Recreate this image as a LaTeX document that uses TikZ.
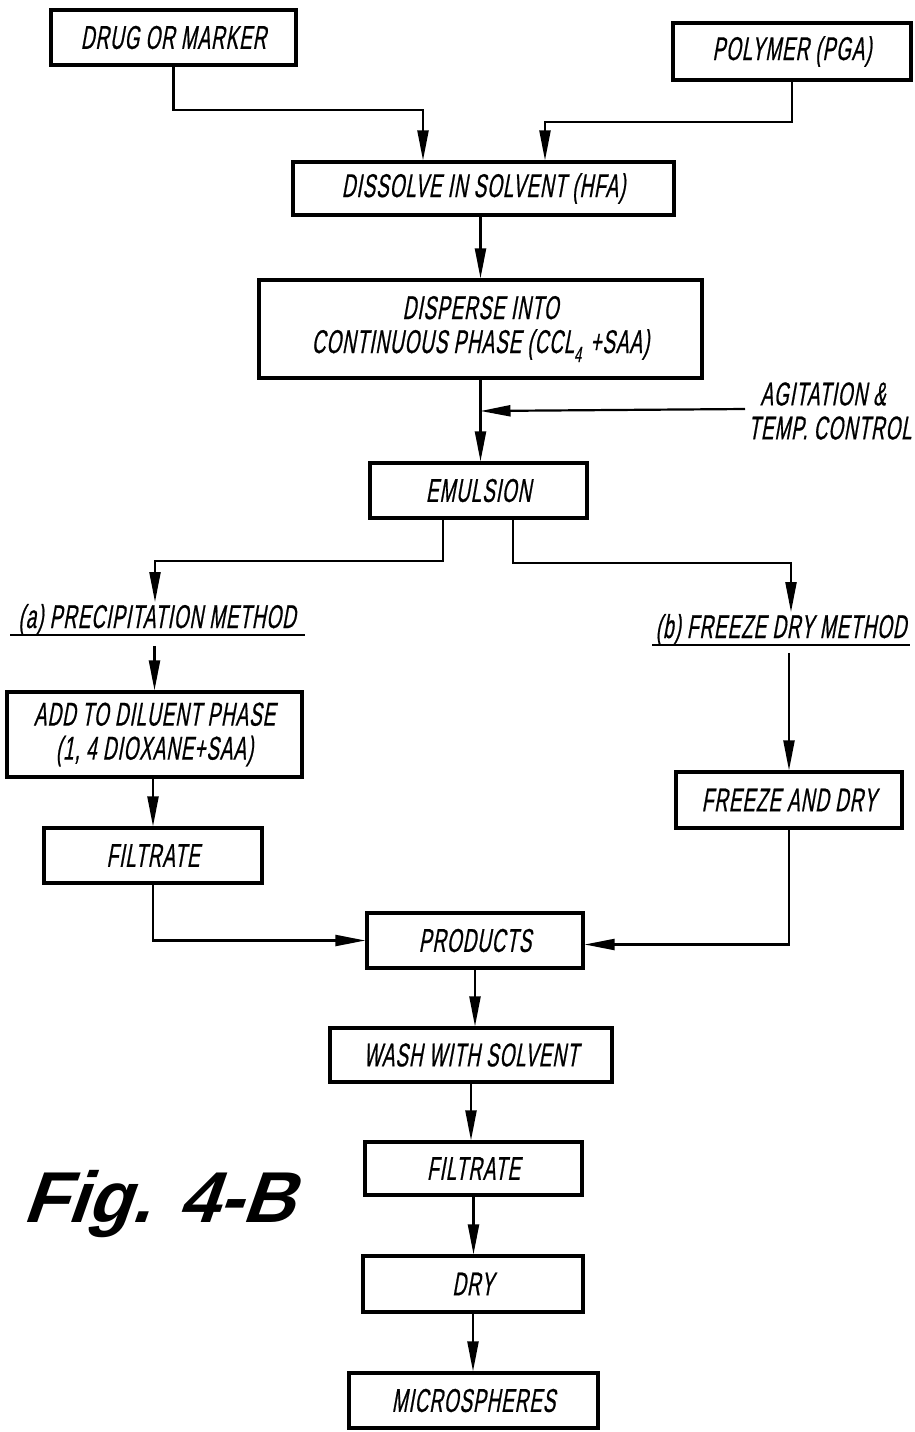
\documentclass[tikz,border=0pt]{standalone}
\usepackage{fontspec}
\usetikzlibrary{arrows.meta}
\newfontfamily\lettering{Liberation Sans}[FakeStretch=0.57, FakeSlant=0.18, FakeBold=0.6, LetterSpace=3]
\newfontfamily\figfont{Liberation Sans}[FakeStretch=1.0, FakeSlant=0.35]
\newcommand{\subfour}{\raisebox{-4.5pt}{\fontsize{11}{11}\selectfont 4}}
\begin{document}
\begin{tikzpicture}[x=0.5pt, y=-0.5pt,
  every node/.style={font=\lettering\fontsize{16.5}{17}\selectfont},
  box/.style={draw, line width=1.6pt, inner sep=0pt, align=center},
  lbl/.style={inner sep=0pt, outer sep=0pt, anchor=base},
  arr/.style={line width=1.1pt, -{Triangle[length=15pt,width=5.5pt]}},
  ln/.style={line width=1.1pt}]
\useasboundingbox (0,0) rectangle (915,1432);
% boxes
\node[box, minimum width=122.5pt, minimum height=27.5pt] (drug) at (173.5,37.5) {DRUG OR MARKER};
\node[box, minimum width=119pt, minimum height=28.5pt] (polymer) at (792,51.5) {POLYMER (PGA)};
\node[box, minimum width=190.5pt, minimum height=26.5pt] (dissolve) at (483.5,188.5) {DISSOLVE IN SOLVENT (HFA)};
\node[box, minimum width=221.5pt, minimum height=49pt] (disperse) at (480.5,329) {DISPERSE INTO\\CONTINUOUS PHASE (CCL\subfour\;+SAA)};
\node[box, minimum width=108.5pt, minimum height=27.5pt] (emulsion) at (478.5,490.5) {EMULSION};
\node[lbl] (labA) at (157,628) {(a) PRECIPITATION METHOD};
\node[lbl] (labB) at (781,638) {(b) FREEZE DRY METHOD};
\node[box, minimum width=147.5pt, minimum height=42.5pt] (add) at (154.5,734.5) {ADD TO DILUENT PHASE\\(1, 4 DIOXANE+SAA)};
\node[box, minimum width=109pt, minimum height=27.5pt] (filtA) at (153,855.5) {FILTRATE};
\node[box, minimum width=113pt, minimum height=28pt] (freeze) at (789,800) {FREEZE AND DRY};
\node[box, minimum width=108pt, minimum height=27.5pt] (products) at (475,940.5) {PRODUCTS};
\node[box, minimum width=141pt, minimum height=27pt] (wash) at (471,1055) {WASH WITH SOLVENT};
\node[box, minimum width=108.5pt, minimum height=26.5pt] (filtB) at (473.5,1168.5) {FILTRATE};
\node[box, minimum width=110pt, minimum height=28pt] (dry) at (473,1284) {DRY};
\node[box, minimum width=124.5pt, minimum height=27.5pt] (micro) at (473.5,1400.5) {MICROSPHERES};
\node[inner sep=0pt, anchor=west, align=left] (agit) at (748,411) {\hspace*{6pt}AGITATION \&\\TEMP. CONTROL};
\node[inner sep=0pt, font=\figfont\bfseries\fontsize{36}{38}\selectfont] (fig) at (158,1204) {Fig. 4-B};
% underlines
\draw[line width=0.9pt] (10,635) -- (305,635);
\draw[line width=0.9pt] (652,645) -- (910,645);
% junction coordinates
\coordinate (j1) at (423,110);
\coordinate (j2) at (545,122);
\coordinate (eL) at (443,0);
\coordinate (eR) at (513,0);
\coordinate (jA) at (155,561);
\coordinate (jB) at (791,563);
% connectors
\draw[arr] (drug.south) |- (j1) -- (j1 |- dissolve.north);
\draw[arr] (polymer.south) |- (j2) -- (j2 |- dissolve.north);
\draw[arr] (dissolve.south -| disperse.north) -- (disperse.north);
\draw[arr] (disperse.south) -- (disperse.south |- emulsion.north);
\draw[arr] (agit.west) ++(-3,-2) -- (agit.west -| disperse.south);
\draw[arr] (emulsion.south -| eL) |- (jA) -- ([yshift=1pt]jA |- labA.north);
\draw[arr] (emulsion.south -| eR) |- (jB) -- ([yshift=1pt]jB |- labB.north);
\draw[arr] ([yshift=-5.5pt]labA.south -| add.north) -- (add.north);
\draw[arr] ([yshift=-4pt]labB.south -| freeze.north) -- (freeze.north);
\draw[arr] (add.south -| filtA.north) -- (filtA.north);
\draw[arr] (filtA.south) |- (products.west);
\draw[arr] (freeze.south) |- ([yshift=-2pt]products.east);
\draw[arr] (products.south) -- (products.south |- wash.north);
\draw[arr] (wash.south) -- (wash.south |- filtB.north);
\draw[arr] (filtB.south) -- (filtB.south |- dry.north);
\draw[arr] (dry.south) -- (dry.south |- micro.north);
\end{tikzpicture}
\end{document}
